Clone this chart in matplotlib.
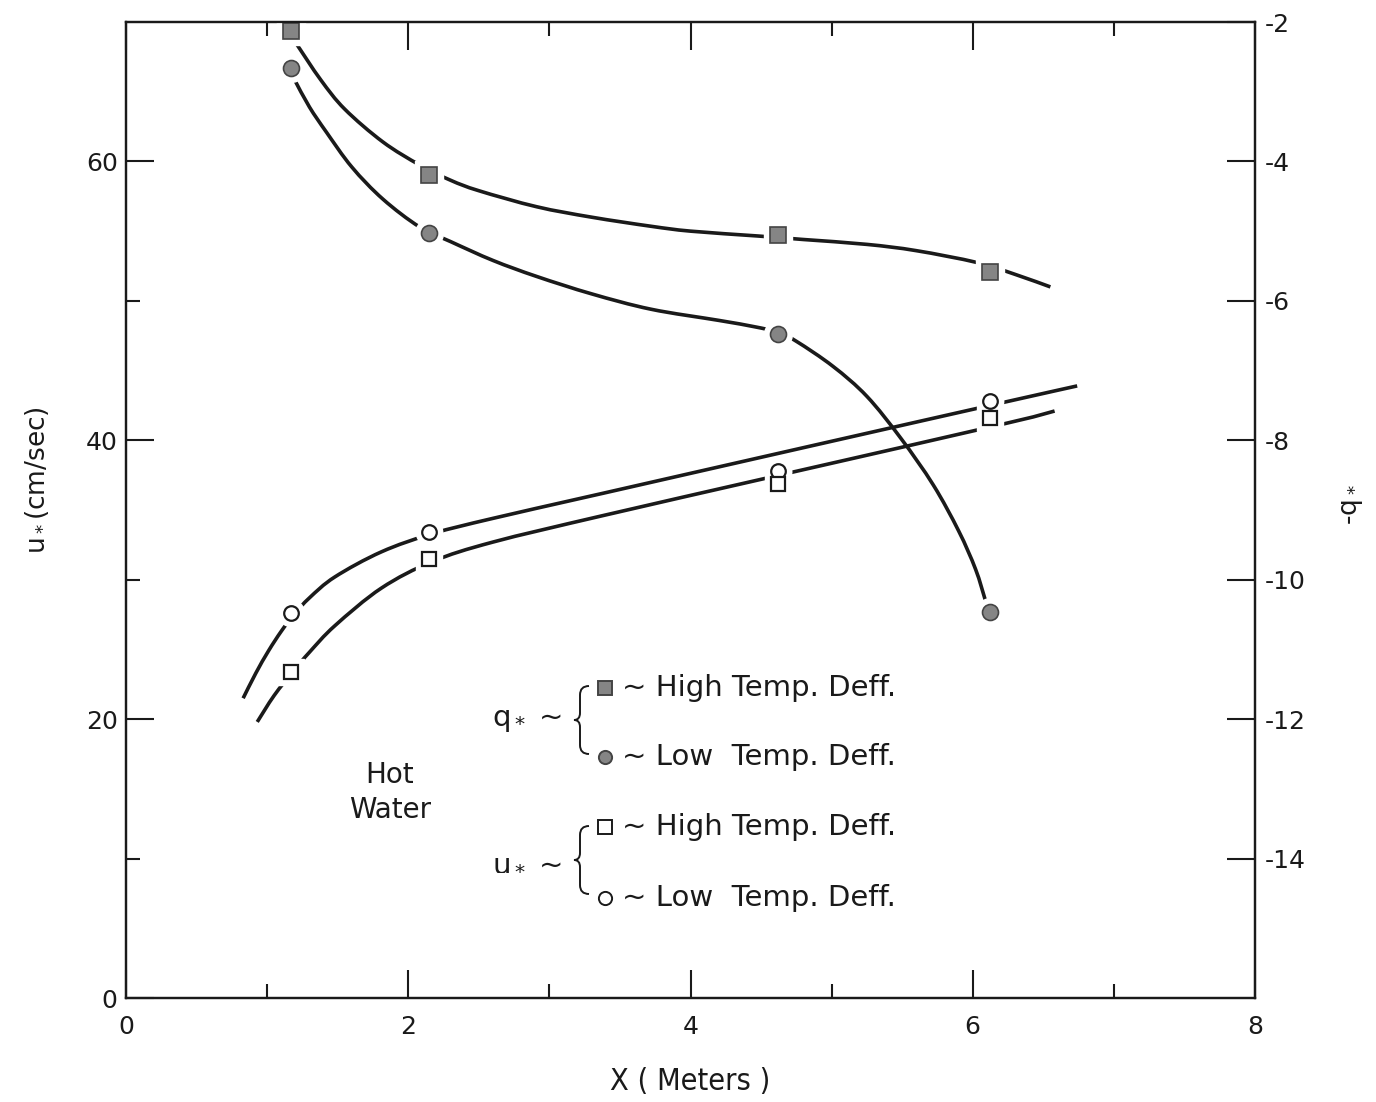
import numpy as np
import matplotlib
matplotlib.use("Agg")
import matplotlib.pyplot as plt
from matplotlib.path import Path
import matplotlib.patches as patches

plt.rcParams['font.family'] = ['DejaVu Sans']
plt.rcParams['axes.unicode_minus'] = False

# measured points
x_pts = [1.17, 2.15, 4.62, 6.12]
q_high = [-2.13, -4.19, -5.05, -5.58]
q_low = [-2.66, -5.03, -6.47, -10.47]
u_high = [23.4, 31.5, 36.9, 41.6]
u_low = [27.6, 33.4, 37.8, 42.8]

# hand drawn fitted curves
q_high_cx = [1.21, 1.38, 1.55, 1.82, 2.08, 2.30, 2.50, 2.91, 3.30, 3.72, 4.00, 4.48, 4.80, 5.25, 5.60, 6.03, 6.30, 6.55]
q_high_cy = [-2.32, -2.83, -3.25, -3.72, -4.05, -4.27, -4.42, -4.65, -4.80, -4.93, -5.00, -5.07, -5.12, -5.19, -5.28, -5.45, -5.62, -5.80]
q_low_cx = [1.20, 1.30, 1.42, 1.60, 1.82, 2.08, 2.30, 2.60, 2.91, 3.30, 3.72, 4.20, 4.45, 4.62, 4.75, 5.01, 5.25, 5.49, 5.72, 5.90, 6.02, 6.09]
q_low_cy = [-2.85, -3.22, -3.58, -4.08, -4.54, -4.94, -5.15, -5.42, -5.65, -5.90, -6.12, -6.28, -6.37, -6.45, -6.58, -6.94, -7.37, -7.97, -8.64, -9.30, -9.85, -10.30]
u_low_cx = [0.83, 0.92, 1.01, 1.10, 1.19, 1.30, 1.48, 1.81, 2.17, 2.60, 3.38, 4.90, 6.21, 6.74]
u_low_cy = [21.5, 23.3, 24.9, 26.3, 27.5, 28.7, 30.2, 32.0, 33.3, 34.4, 36.2, 39.7, 42.7, 43.9]
u_high_cx = [0.93, 1.05, 1.19, 1.30, 1.48, 1.81, 2.17, 2.60, 3.38, 4.63, 6.23, 6.58]
u_high_cy = [19.8, 21.7, 23.5, 24.8, 26.7, 29.4, 31.3, 32.7, 34.6, 37.5, 41.2, 42.1]

W, H = 1376, 1102
fig = plt.figure(figsize=(W / 100, H / 100), dpi=100)
L, R, T, B = 126, 1255, 22, 998
ax = fig.add_axes([L / W, 1 - B / H, (R - L) / W, (B - T) / H])
ax2 = ax.twinx()

def axf(px, py):
    return (px - L) / (R - L), (B - py) / (B - T)

def figf(px, py):
    return px / W, 1 - py / H

def smooth(xs, ys):
    # catmull-rom through the read points, drawn as bezier segments
    p = np.column_stack([xs, ys]).astype(float)
    verts, codes = [p[0]], [Path.MOVETO]
    n = len(p)
    for i in range(n - 1):
        p0 = p[i - 1] if i > 0 else p[i]
        p3 = p[i + 2] if i + 2 < n else p[i + 1]
        c1 = p[i] + (p[i + 1] - p0) / 6
        c2 = p[i + 1] - (p3 - p[i]) / 6
        verts += [c1, c2, p[i + 1]]
        codes += [Path.CURVE4] * 3
    return Path(verts, codes)

ink = '#1a1a1a'
grey = '#858585'

def curve(a, xs, ys):
    a.add_patch(patches.PathPatch(smooth(xs, ys), fill=False, ec=ink, lw=2.6,
                                  capstyle='butt', zorder=2, transform=a.transData))

# u* curves (left axis)
curve(ax, u_low_cx, u_low_cy)
curve(ax, u_high_cx, u_high_cy)
for yy, m in [(u_low, 'o'), (u_high, 's')]:
    ax.plot(x_pts, yy, ls='none', marker=m, ms=19, mfc='white', mec='white', zorder=3)
    ax.plot(x_pts, yy, ls='none', marker=m, ms=10.5, mfc='white', mec=ink, mew=1.6, zorder=4, clip_on=False)

# q* curves (right axis)
curve(ax2, q_high_cx, q_high_cy)
curve(ax2, q_low_cx, q_low_cy)
for yy, m in [(q_high, 's'), (q_low, 'o')]:
    ax2.plot(x_pts, yy, ls='none', marker=m, ms=20, mfc='white', mec='white', zorder=3)
    ax2.plot(x_pts, yy, ls='none', marker=m, ms=11.5, mfc=grey, mec='#444444', mew=1.2, zorder=4, clip_on=False)

ax.set_xlim(0, 8)
ax.set_ylim(0, 70)
ax2.set_ylim(-16, -2)

ax.set_xticks([0, 2, 4, 6, 8])
ax.set_xticks([1, 3, 5, 7], minor=True)
ax.set_yticks([0, 20, 40, 60])
ax.set_yticks([10, 30, 50], minor=True)
ax2.set_yticks([-2, -4, -6, -8, -10, -12, -14])

ax.tick_params(which='both', direction='in', top=True, right=False, width=1.5, colors=ink)
ax.tick_params(which='major', length=20, labelsize=18)
ax.tick_params(which='minor', length=10)
ax.tick_params(axis='x', pad=12)
ax.tick_params(axis='y', pad=6)
ax2.tick_params(direction='in', length=20, width=1.5, labelsize=18, pad=7, colors=ink)

for a in (ax, ax2):
    for s in a.spines.values():
        s.set_linewidth(1.6)
        s.set_color(ink)
        s.set_zorder(10)

# axis labels
fig.text(*figf(37, 480), 'u$_*$(cm/sec)', rotation=90, ha='center', va='center', fontsize=19, color=ink)
fig.text(*figf(1352, 505), '-q$_*$', rotation=90, ha='center', va='center', fontsize=19, color=ink)
fig.text(*figf(690, 1082), 'X ( Meters )', ha='center', va='center', fontsize=22,
         family='DejaVu Sans', stretch='condensed', color=ink)

# annotation
ax.text(*axf(390, 775), 'Hot', transform=ax.transAxes, ha='center', va='center', fontsize=20, color=ink)
ax.text(*axf(390, 810), 'Water', transform=ax.transAxes, ha='center', va='center', fontsize=20, color=ink)

# legend block
ax.text(*axf(562, 720), 'q$_*$ ~', transform=ax.transAxes, ha='right', va='center', fontsize=21, color=ink)
ax.text(*axf(562, 862), 'u$_*$ ~', transform=ax.transAxes, ha='right', va='center', fontsize=21, color=ink)

def brace(cx, y1, y2):
    ym = (y1 + y2) / 2
    pts = [(cx + 9, y1), (cx, y1), (cx, y1 + 9), (cx, ym - 7), (cx, ym), (cx - 6, ym),
           (cx, ym), (cx, ym + 7), (cx, y2 - 9), (cx, y2), (cx + 9, y2)]
    codes = [Path.MOVETO, Path.CURVE3, Path.CURVE3, Path.LINETO, Path.CURVE3, Path.CURVE3,
             Path.CURVE3, Path.CURVE3, Path.LINETO, Path.CURVE3, Path.CURVE3]
    verts = [figf(px, py) for px, py in pts]
    fig.patches.append(patches.PathPatch(Path(verts, codes), transform=fig.transFigure,
                                         fill=False, lw=1.4, ec=ink))

brace(580, 686, 754)
brace(580, 826, 894)

leg = [('s', grey, '#444444', 688, '~ High Temp. Deff.'),
       ('o', grey, '#444444', 757, '~ Low  Temp. Deff.'),
       ('s', 'white', ink, 827, '~ High Temp. Deff.'),
       ('o', 'white', ink, 898, '~ Low  Temp. Deff.')]
for m, fc, ec, py, label in leg:
    ax.plot(*axf(605, py), marker=m, ms=9.5, mfc=fc, mec=ec, mew=1.4, transform=ax.transAxes, clip_on=False)
    ax.text(*axf(622, py), label, transform=ax.transAxes, ha='left', va='center', fontsize=21, color=ink)

fig.savefig('out.png', dpi=100)
